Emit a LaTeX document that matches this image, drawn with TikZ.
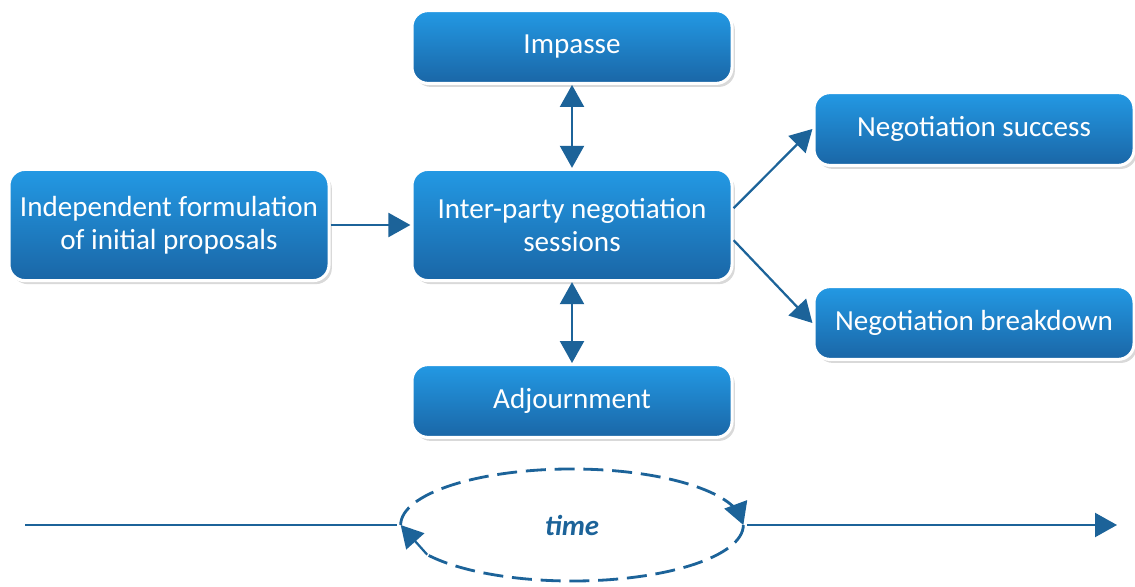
\documentclass[tikz,border=0pt]{standalone}
\usepackage{fontspec}
\setmainfont{Carlito}
\usetikzlibrary{positioning}
\usetikzlibrary{arrows.meta}
\usetikzlibrary{shadows}
\usetikzlibrary{shapes.geometric}
\definecolor{boxtop}{HTML}{2399E4}
\definecolor{boxbot}{HTML}{1A66A6}
\definecolor{flowblue}{HTML}{1C6399}
\tikzset{
    stage/.style = {rectangle, rounded corners=0.4cm, draw=white, line width=2.2pt,
        top color=boxtop, bottom color=boxbot, text=white, align=center,
        font=\fontsize{20.7}{23.5}\selectfont, minimum width=8cm, minimum height=1.82cm,
        drop shadow={shadow xshift=2pt, shadow yshift=-2.5pt, opacity=0.3}},
    tallstage/.style = {stage, minimum height=2.78cm},
    bigtip/.tip = {Triangle[length=0.55cm, width=0.6cm]},
    flow/.style = {draw=flowblue, line width=1.6pt, -bigtip},
    twoway/.style = {flow, bigtip-bigtip},
    loopline/.style = {draw=flowblue, line width=2pt, dash pattern=on 0.5cm off 0.22cm},
    timeloop/.style = {ellipse, minimum width=8.55cm, minimum height=2.8cm, inner sep=0pt,
        text=flowblue, font=\fontsize{20.5}{23}\selectfont\bfseries\itshape}}

\begin{document}
\begin{tikzpicture}[x=0.025cm, y=0.025cm]
        \useasboundingbox (0,0) rectangle (1135,586);
        \path (572,361) node[tallstage] (inter) {Inter-party negotiation\\sessions}
        + (0,178) node[stage] (impasse) {Impasse}
        + (0,-176) node[stage] (adjourn) {Adjournment}
        + (-403,0) node[tallstage] (indep) {Independent formulation\\of initial proposals}
        + (402,96) node[stage] (success) {Negotiation success}
        + (402,-98) node[stage] (breakdown) {Negotiation breakdown};
        \draw[flow] (indep) -- (inter);
        \draw[twoway] (impasse) -- (inter);
        \draw[twoway] (inter) -- (adjourn);
        \draw[flow] ([yshift=0.42cm]inter.east) -- (success.west);
        \draw[flow] ([yshift=-0.38cm]inter.east) -- (breakdown.west);
        % time line
        \node[timeloop] (clock) at (572,61) {time};
        \coordinate (tstart) at (25,61);
        \coordinate (tend) at (1117,61);
        \draw[draw=flowblue, line width=1.6pt] (tstart) -- ([xshift=-0.1cm]clock.west);
        \draw[flow] ([xshift=0.1cm]clock.east) -- (tend);
        \draw[loopline] (clock.west) arc[start angle=180, end angle=12, x radius=4.275cm, y radius=1.4cm] coordinate (upend);
        \draw[loopline] (clock.east) arc[start angle=0, end angle=-148, x radius=4.275cm, y radius=1.4cm] coordinate (lowend);
        \draw[flow] (upend) -- (clock.east);
        \draw[flow] (lowend) -- (clock.west);
    \end{tikzpicture}
\end{document}
